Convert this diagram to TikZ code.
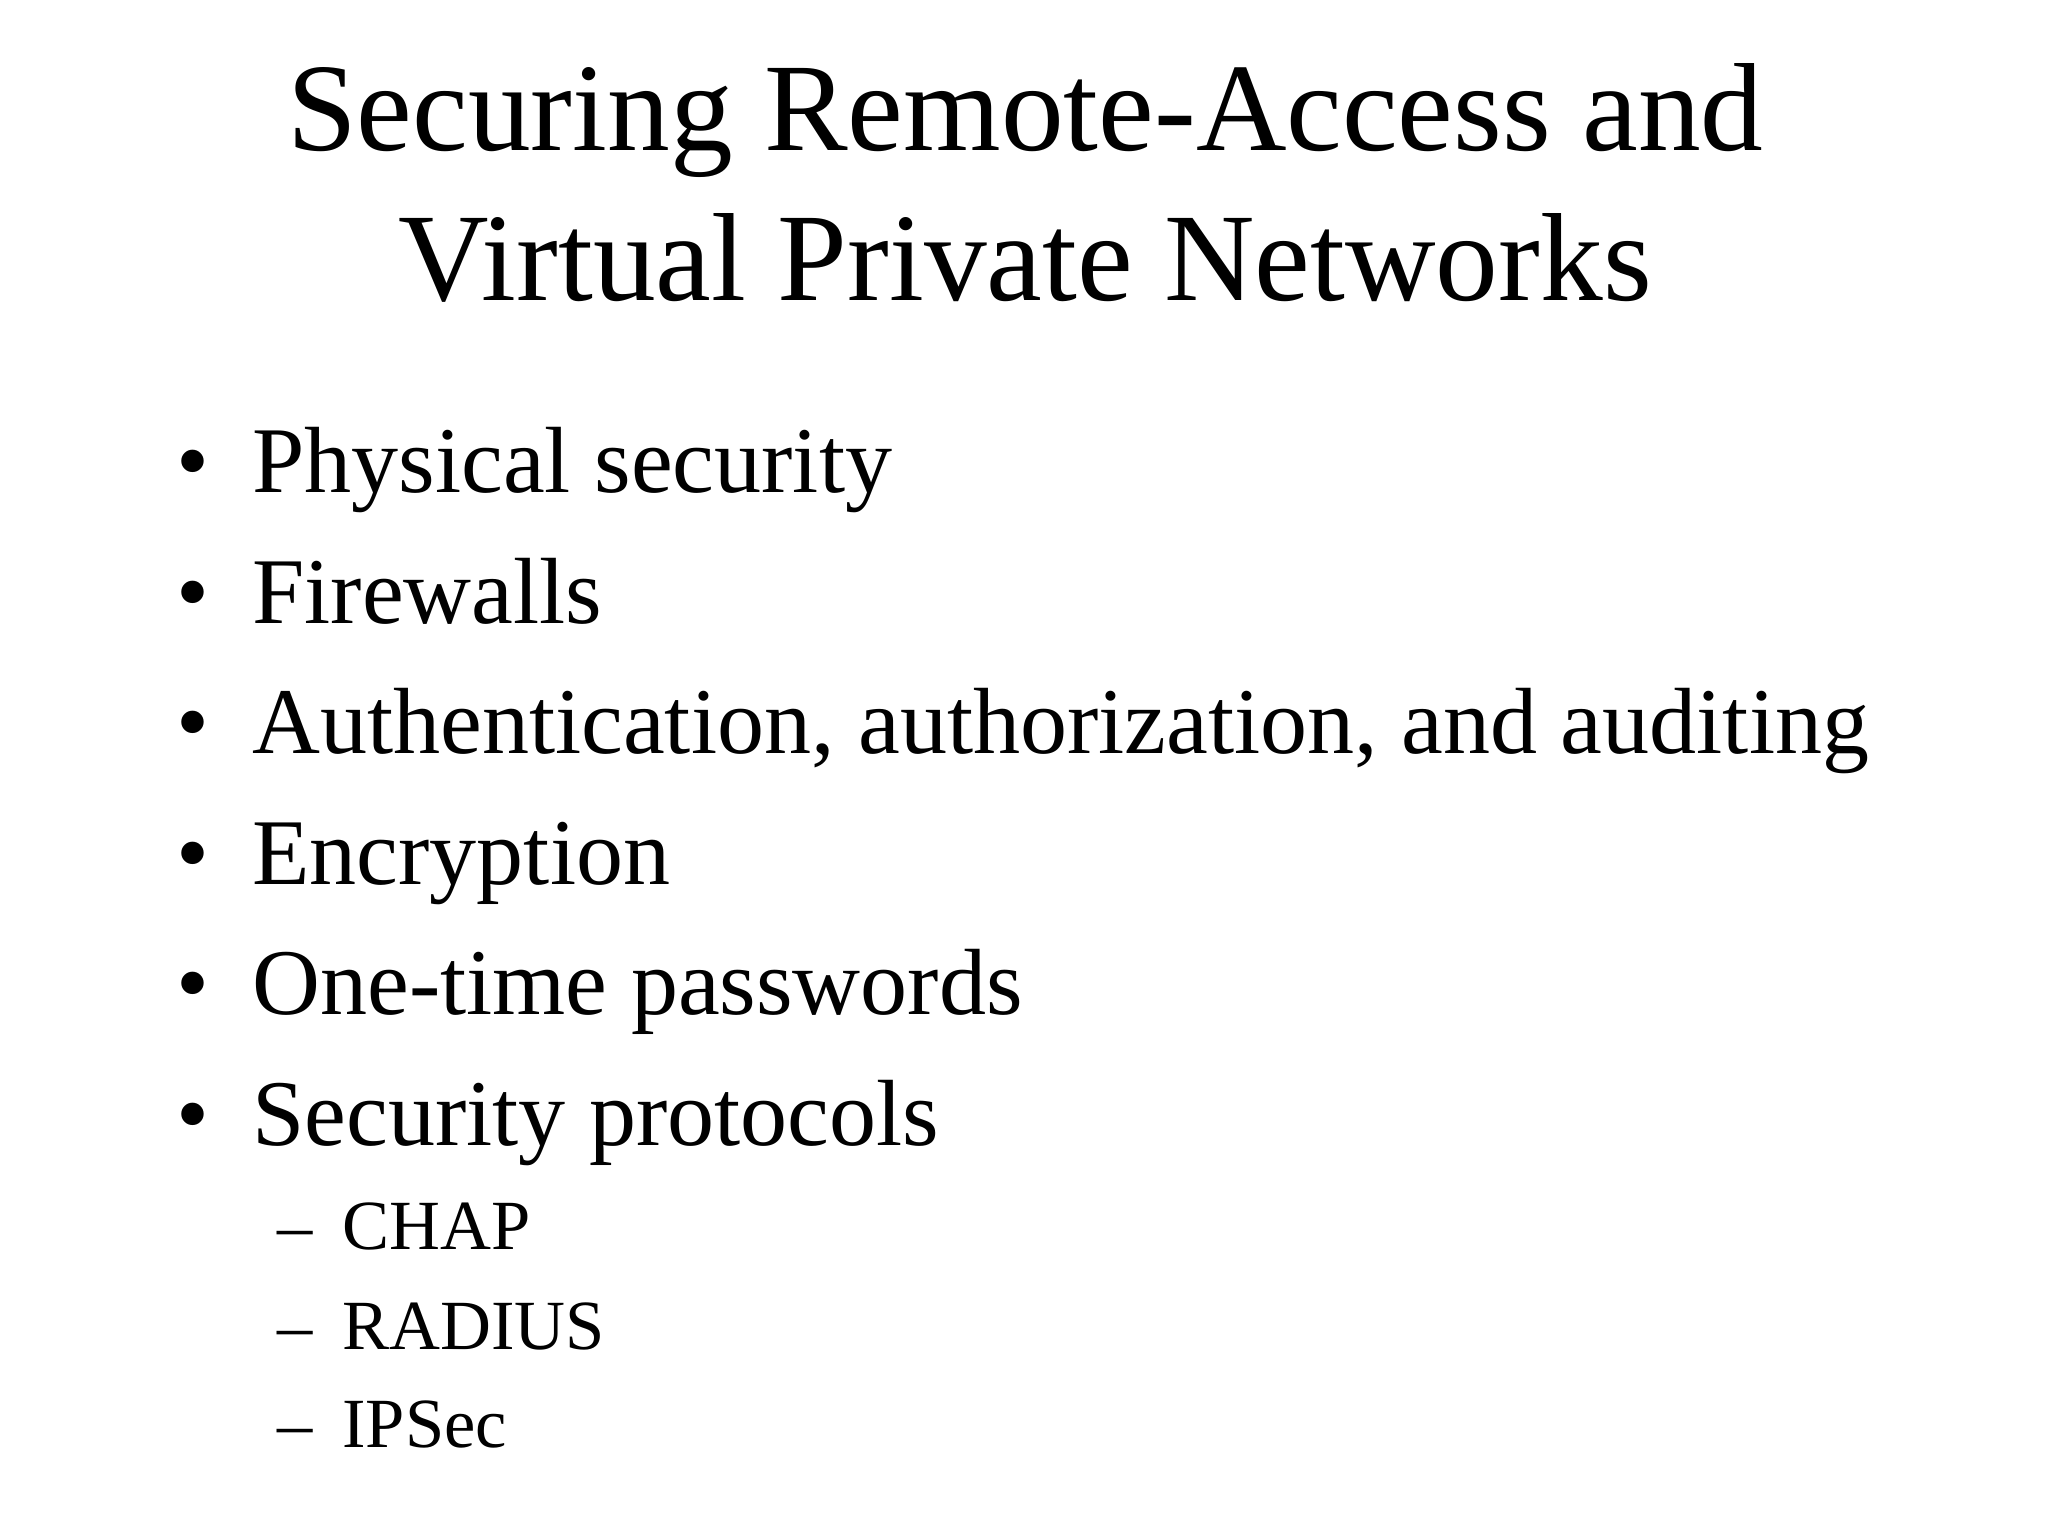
\documentclass[tikz,border=0pt]{standalone}
\usepackage{fontspec}
\setmainfont{Liberation Serif}
\begin{document}
\begin{tikzpicture}[x=1pt,y=-1pt,
  ttl/.style={anchor=base,font=\fontsize{96}{115}\selectfont,inner sep=0},
  itm/.style={anchor=base west,font=\fontsize{72}{86}\selectfont,inner sep=0},
  sub/.style={anchor=base west,font=\fontsize{54}{64}\selectfont,inner sep=0}]
\useasboundingbox[fill=white] (0,0) rectangle (1568,1176);
\node[ttl] (t1) at (785,115) {Securing Remote-Access and};
\node[ttl] (t2) at (785,230) {Virtual Private Networks};
\foreach \y/\t [count=\i] in {377/Physical security,477/Firewalls,577/{Authentication, authorization, and auditing},677/Encryption,777/One-time passwords,877/Security protocols}{
  \node[itm] (b\i) at (135,\y) {•};
  \node[itm] (i\i) at (193,\y) {\t};
}
\foreach \y/\t [count=\i] in {957/CHAP,1033/RADIUS,1108/IPSec}{
  \node[sub] (d\i) at (212,\y) {–};
  \node[sub] (s\i) at (262,\y) {\t};
}
\end{tikzpicture}
\end{document}
